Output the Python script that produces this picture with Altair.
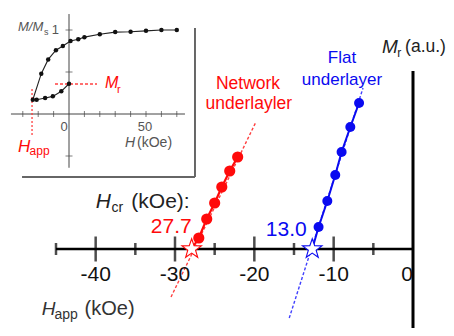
import altair as alt
import pandas as pd

FONT = "Liberation Sans"
RED = "#ff0a0a"
BLUE = "#0a0af0"
STAR = ("M0,-1L0.235,-0.324L0.951,-0.309L0.380,0.124L0.588,0.809L0,0.4"
        "L-0.588,0.809L-0.380,0.124L-0.951,-0.309L-0.235,-0.324Z")

# ---------------- main chart data (H in kOe, Mr in a.u.) ----------------
red_H = [-22.1, -23.1, -24.1, -25.0, -26.0, -27.0]
red_Mr = [9.2, 7.8, 6.2, 4.6, 3.0, 1.1]
blue_H = [-6.8, -7.9, -9.0, -9.8, -10.8, -11.9]
blue_Mr = [14.6, 12.2, 9.7, 7.4, 4.8, 2.2]
red_star_H = -27.9
blue_star_H = -12.7
red_dash_H = [-19.8, -30.5]
red_dash_Mr = [12.7, -4.8]
blue_dash_H = [-6.3, -15.6]
blue_dash_Mr = [16.1, -6.9]
major_ticks = [-40, -30, -20, -10]
minor_ticks = [-45, -35, -25, -15, -5]
tick_labels = ["-40", "-30", "-20", "-10"]
hcr_red = "27.7"
hcr_blue = "13.0"

# ---------------- inset data (H in kOe, M/Ms) ----------------
inset_H = [70, 60, 50, 40, 30, 20, 10, 6, 1, -4, -8.5, -13.5, -18, -23.5,
           -21, -15.5, -10.5, -5, 0]
inset_M = [1.0, 1.0, 0.99, 0.98, 0.975, 0.95, 0.915, 0.89, 0.87, 0.81, 0.76,
           0.65, 0.48, 0.17, 0.17, 0.19, 0.21, 0.27, 0.36]
inset_xticks = [-30, -20, -10, 10, 20, 30, 40, 50, 60, 70]
inset_yticks = [-0.5, 0.5, 1.0]

SX = alt.Scale(domain=[-45, 0], range=[48, 405], nice=False, zero=False)
SY = alt.Scale(domain=[0, 10], range=[241, 141], nice=False, zero=False)
SXi = alt.Scale(domain=[0, 50], range=[61, 138], nice=False, zero=False)
SYi = alt.Scale(domain=[0, 1], range=[106, 22], nice=False, zero=False)


def xf(f, s):
    return alt.X(f, type="quantitative", scale=s, axis=None)


def yf(f, s):
    return alt.Y(f, type="quantitative", scale=s, axis=None)


def text(h, m, s, sx, sy, **kw):
    kw.setdefault("font", FONT)
    kw.setdefault("baseline", "middle")
    df = pd.DataFrame({"H": [h], "M": [m], "t": [s]})
    return alt.Chart(df).mark_text(**kw).encode(x=xf("H", sx), y=yf("M", sy), text="t:N")


def seg(h1, m1, h2, m2, sx, sy, **kw):
    df = pd.DataFrame({"H": [h1, h2], "M": [m1, m2]})
    return alt.Chart(df).mark_line(**kw).encode(x=xf("H", sx), y=yf("M", sy), order="M:Q")


red_df = pd.DataFrame({"H": red_H, "Mr": red_Mr})
blue_df = pd.DataFrame({"H": blue_H, "Mr": blue_Mr})
red_line_df = pd.DataFrame({"H": [red_star_H] + red_H, "Mr": [0] + red_Mr})
blue_line_df = pd.DataFrame({"H": [blue_star_H] + blue_H, "Mr": [0] + blue_Mr})

main_layers = [
    alt.Chart(pd.DataFrame({"H": red_dash_H, "Mr": red_dash_Mr})).mark_line(
        color="#ff4040", strokeWidth=1.4, strokeDash=[3, 2]).encode(x=xf("H", SX), y=yf("Mr", SY)),
    alt.Chart(pd.DataFrame({"H": blue_dash_H, "Mr": blue_dash_Mr})).mark_line(
        color="#4040ff", strokeWidth=1.4, strokeDash=[3, 2]).encode(x=xf("H", SX), y=yf("Mr", SY)),
    seg(-45, 0, 0, 0, SX, SY, color="black", strokeWidth=2.5),
    seg(0, 17.8, 0, -9, SX, SY, color="black", strokeWidth=3),
    alt.Chart(pd.DataFrame({"H": major_ticks, "Mr": [0] * 4})).mark_tick(
        orient="vertical", size=25, thickness=2.5, color="black").encode(x=xf("H", SX), y=yf("Mr", SY)),
    alt.Chart(pd.DataFrame({"H": minor_ticks, "Mr": [0] * 5})).mark_tick(
        orient="vertical", size=12, thickness=2.5, color="black").encode(x=xf("H", SX), y=yf("Mr", SY)),
    alt.Chart(pd.DataFrame({"H": major_ticks, "Mr": [-2.6] * 4, "t": tick_labels})).mark_text(
        font=FONT, fontSize=21, color="#111", baseline="middle").encode(
        x=xf("H", SX), y=yf("Mr", SY), text="t:N"),
    text(0, -2.6, "0", SX, SY, fontSize=21, color="#111", align="right"),
    alt.Chart(red_line_df).mark_line(color=RED, strokeWidth=2.2).encode(x=xf("H", SX), y=yf("Mr", SY)),
    alt.Chart(blue_line_df).mark_line(color=BLUE, strokeWidth=2).encode(x=xf("H", SX), y=yf("Mr", SY)),
    alt.Chart(red_df).mark_circle(size=125, color=RED, opacity=1).encode(x=xf("H", SX), y=yf("Mr", SY)),
    alt.Chart(blue_df).mark_circle(size=100, color=BLUE, opacity=1).encode(x=xf("H", SX), y=yf("Mr", SY)),
    text(-20.8, 16.5, "Network", SX, SY, fontSize=17.5, color=RED),
    text(-20.7, 14.5, "underlayler", SX, SY, fontSize=17.5, color=RED),
    text(-8.95, 19.1, "Flat", SX, SY, fontSize=17, color=BLUE),
    text(-8.95, 16.9, "underlayer", SX, SY, fontSize=17, color=BLUE),
    text(-3.9, 20.2, "M", SX, SY, fontSize=19, fontStyle="italic", color="#222", align="left"),
    text(-2.0, 19.6, "r", SX, SY, fontSize=12, color="#222", align="left"),
    text(-1.0, 20.2, "(a.u.)", SX, SY, fontSize=17.5, color="#222", align="left"),
    text(-40.0, 4.7, "H", SX, SY, fontSize=21, fontStyle="italic", color="#222", align="left"),
    text(-38.0, 4.1, "cr", SX, SY, fontSize=14, color="#222", align="left"),
    text(-35.5, 4.7, "(kOe):", SX, SY, fontSize=21, color="#222", align="left"),
    text(-27.9, 2.2, hcr_red, SX, SY, fontSize=21, color=RED, align="right"),
    text(-13.4, 1.9, hcr_blue, SX, SY, fontSize=21, color=BLUE, align="right"),
    text(-46.8, -6.0, "H", SX, SY, fontSize=19, fontStyle="italic", color="#333", align="left"),
    text(-45.2, -6.6, "app", SX, SY, fontSize=14, color="#333", align="left"),
    text(-41.4, -6.0, "(kOe)", SX, SY, fontSize=20, color="#333", align="left"),
    alt.Chart(pd.DataFrame({"H": [red_star_H], "Mr": [0]})).mark_point(
        shape=STAR, size=420, filled=True, fill="white", stroke=RED,
        strokeWidth=1.1, opacity=1).encode(x=xf("H", SX), y=yf("Mr", SY)),
    alt.Chart(pd.DataFrame({"H": [blue_star_H], "Mr": [0]})).mark_point(
        shape=STAR, size=420, filled=True, fill="white", stroke=BLUE,
        strokeWidth=1.1, opacity=1).encode(x=xf("H", SX), y=yf("Mr", SY)),
]

inset_df = pd.DataFrame({"H": inset_H, "M": inset_M, "i": list(range(len(inset_H)))})
GRAY = "#555"
inset_layers = [
    seg(81.8, 1.024, 81.8, -0.75, SXi, SYi, color="#666", strokeWidth=2),
    alt.Chart(pd.DataFrame({"H": [-30.5, 81.8], "M": [-0.75, -0.75]})).mark_line(
        color="#666", strokeWidth=2).encode(x=xf("H", SXi), y=yf("M", SYi)),
    alt.Chart(pd.DataFrame({"H": [-37.7, 75.3], "M": [0, 0]})).mark_line(
        color="#444", strokeWidth=1).encode(x=xf("H", SXi), y=yf("M", SYi)),
    seg(0, 1.19, 0, -0.64, SXi, SYi, color="#444", strokeWidth=1),
    alt.Chart(pd.DataFrame({"H": inset_xticks, "M": [0] * len(inset_xticks)})).mark_tick(
        orient="vertical", size=6, thickness=1, color="#444").encode(x=xf("H", SXi), y=yf("M", SYi)),
    alt.Chart(pd.DataFrame({"H": [0] * len(inset_yticks), "M": inset_yticks})).mark_tick(
        orient="horizontal", size=7, thickness=1, color="#444").encode(x=xf("H", SXi), y=yf("M", SYi)),
    alt.Chart(pd.DataFrame({"H": [-9.1, 18.2], "M": [0.357, 0.357]})).mark_line(
        color="#ff4040", strokeWidth=1.3, strokeDash=[3, 2]).encode(x=xf("H", SXi), y=yf("M", SYi)),
    seg(-24.0, 0.32, -24.0, -0.25, SXi, SYi, color="#ff4040", strokeWidth=1.3, strokeDash=[2, 2]),
    alt.Chart(inset_df).mark_line(color="#222", strokeWidth=1.1).encode(
        x=xf("H", SXi), y=yf("M", SYi), order="i:Q"),
    alt.Chart(inset_df).mark_circle(size=20, color="#111", opacity=1).encode(
        x=xf("H", SXi), y=yf("M", SYi)),
    text(-33.1, 1.036, "M/M", SXi, SYi, fontSize=13, fontStyle="italic", color=GRAY, align="left"),
    text(-16.2, 0.976, "s", SXi, SYi, fontSize=9, color=GRAY, align="left"),
    text(-6.5, 1.0, "1", SXi, SYi, fontSize=13, color=GRAY, align="right"),
    text(-3.2, -0.155, "0", SXi, SYi, fontSize=13, color=GRAY),
    text(49.4, -0.155, "50", SXi, SYi, fontSize=13, color=GRAY),
    text(36.4, -0.345, "H", SXi, SYi, fontSize=14, fontStyle="italic", color=GRAY, align="left"),
    text(44.2, -0.345, "(kOe)", SXi, SYi, fontSize=14, color=GRAY, align="left"),
    text(23.4, 0.369, "M", SXi, SYi, fontSize=16, fontStyle="italic", color=RED, align="left"),
    text(31.2, 0.29, "r", SXi, SYi, fontSize=11, color=RED, align="left"),
    text(-33.1, -0.393, "H", SXi, SYi, fontSize=17, fontStyle="italic", color=RED, align="left"),
    text(-25.6, -0.44, "app", SXi, SYi, fontSize=12, color=RED, align="left"),
]

main = alt.layer(*main_layers)
inset = alt.layer(*inset_layers)

chart = alt.layer(main, inset).resolve_scale(x="independent", y="independent").properties(
    width=438, height=320,
    autosize=alt.AutoSizeParams(type="none"),
    padding=0,
    background="white",
).configure_view(stroke=None)

chart.save("out.html", embed_options={"renderer": "svg", "actions": False})
